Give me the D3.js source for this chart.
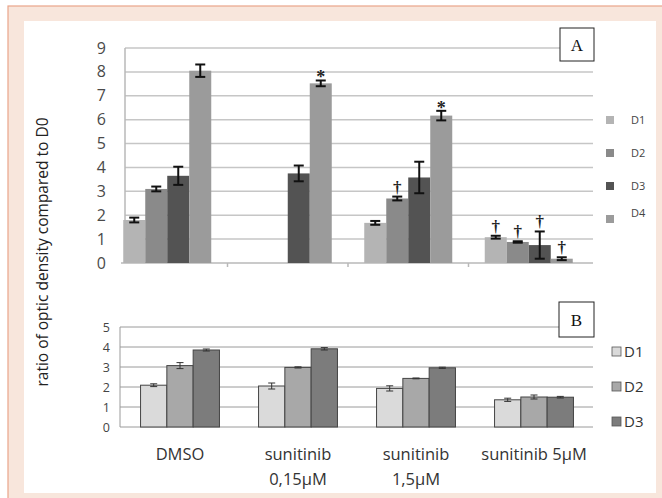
<!DOCTYPE html>
<html>
<head>
<meta charset="utf-8">
<script src="https://cdn.jsdelivr.net/npm/d3@7"></script>
<style>
	body { margin: 0; background: #fff; }
	svg { display: block; font-family: "Open Sans", sans-serif; }
</style>
</head>
<body>
<svg id="chart" width="662" height="498"></svg>
<script>
// categories, shared by both panels
var categories = ["DMSO", "sunitinib 0,15µM", "sunitinib 1,5µM", "sunitinib 5µM"];
var categoryLines = [["DMSO"], ["sunitinib", "0,15µM"], ["sunitinib", "1,5µM"], ["sunitinib 5µM"]];

// panel A (null = no bar)
var seriesA = ["D1", "D2", "D3", "D4"];
var meanA = [
	[1.8, 3.1, 3.65, 8.05],
	[null, null, 3.75, 7.52],
	[1.68, 2.7, 3.58, 6.17],
	[1.08, 0.88, 0.75, 0.18]
];
var errA = [
	[0.1, 0.1, 0.38, 0.26],
	[null, null, 0.33, 0.12],
	[0.08, 0.08, 0.66, 0.2],
	[0.06, 0.03, 0.57, 0.06]
];
var markA = [
	["", "", "", ""],
	["", "", "", "*"],
	["", "†", "", "*"],
	["†", "†", "†", "†"]
];
var ticksA = [0, 1, 2, 3, 4, 5, 6, 7, 8, 9];

// panel B
var seriesB = ["D1", "D2", "D3"];
var meanB = [
	[2.09, 3.07, 3.85],
	[2.05, 2.98, 3.91],
	[1.93, 2.43, 2.96],
	[1.36, 1.5, 1.49]
];
var errB = [
	[0.07, 0.15, 0.05],
	[0.15, 0.03, 0.06],
	[0.13, 0.02, 0.03],
	[0.08, 0.1, 0.04]
];
var ticksB = [0, 1, 2, 3, 4, 5];

var colorsA = ["#b4b4b4", "#8a8a8a", "#535353", "#9b9b9b"];
var colorsB = ["#dadada", "#a8a8a8", "#7c7c7c"];

var svg = d3.select("#chart");

// page frame
svg.append("rect").attr("x", 0).attr("y", 0).attr("width", 662).attr("height", 498).attr("fill", "#fff");
svg.append("rect").attr("x", 8).attr("y", 6).attr("width", 670).attr("height", 500)
	.attr("fill", "#f8e6dc").attr("stroke", "#eaa58a").attr("stroke-width", 1.2);
svg.append("rect").attr("x", 24).attr("y", 21).attr("width", 632).attr("height", 472).attr("fill", "#fff");

function flatten(means, errs, marks) {
	var out = [];
	means.forEach(function(row, ci) {
		row.forEach(function(v, si) {
			if (v == null) return;
			out.push({c: categories[ci], s: si, v: v, e: errs[ci][si], m: marks ? marks[ci][si] : ""});
		});
	});
	return out;
}

/* ---------- panel A ---------- */
var A = {left: 125, right: 593, top: 48, bottom: 263};
var yA = d3.scaleLinear().domain([0, 9]).range([A.bottom, A.top]);
var xA = d3.scaleBand().domain(categories).range([107, 589]);
var barA = 22;

var gA = svg.append("g");
gA.selectAll("line.grid").data(ticksA.slice(1)).enter().append("line")
	.attr("x1", A.left).attr("x2", A.right)
	.attr("y1", function(d) { return yA(d); }).attr("y2", function(d) { return yA(d); })
	.attr("stroke", "#c6c6c6").attr("stroke-width", 1.5);
gA.append("line").attr("x1", A.left).attr("x2", A.left).attr("y1", A.top).attr("y2", A.bottom)
	.attr("stroke", "#b8b8b8").attr("stroke-width", 1.5);
gA.append("line").attr("x1", A.left - 4).attr("x2", A.right).attr("y1", A.bottom).attr("y2", A.bottom)
	.attr("stroke", "#b8b8b8").attr("stroke-width", 1.5);
gA.selectAll("line.tick").data(categories.slice(1)).enter().append("line")
	.attr("x1", function(d) { return xA(d); }).attr("x2", function(d) { return xA(d); })
	.attr("y1", A.bottom).attr("y2", A.bottom + 4)
	.attr("stroke", "#b8b8b8").attr("stroke-width", 1.5);
gA.selectAll("text.ytick").data(ticksA).enter().append("text")
	.attr("x", 106).attr("y", function(d) { return yA(d) + 5.5; })
	.attr("text-anchor", "end").attr("font-size", 16).attr("fill", "#4a4a4a")
	.text(function(d) { return d; });

var dataA = flatten(meanA, errA, markA);
function barXA(d) { return xA(d.c) + xA.bandwidth() / 2 - 2 * barA + d.s * barA; }

gA.selectAll("rect.bar").data(dataA).enter().append("rect")
	.attr("x", barXA).attr("width", barA)
	.attr("y", function(d) { return yA(d.v); })
	.attr("height", function(d) { return A.bottom - yA(d.v); })
	.attr("fill", function(d) { return colorsA[d.s]; });

var ebA = gA.selectAll("g.err").data(dataA).enter().append("g")
	.attr("stroke", "#111").attr("stroke-width", 2);
ebA.append("line")
	.attr("x1", function(d) { return barXA(d) + barA / 2; }).attr("x2", function(d) { return barXA(d) + barA / 2; })
	.attr("y1", function(d) { return yA(d.v + d.e); }).attr("y2", function(d) { return yA(d.v - d.e); });
[1, -1].forEach(function(sgn) {
	ebA.append("line")
		.attr("x1", function(d) { return barXA(d) + barA / 2 - 5; }).attr("x2", function(d) { return barXA(d) + barA / 2 + 5; })
		.attr("y1", function(d) { return yA(d.v + sgn * d.e); }).attr("y2", function(d) { return yA(d.v + sgn * d.e); });
});

gA.selectAll("text.mark").data(dataA.filter(function(d) { return d.m; })).enter().append("text")
	.attr("x", function(d) { return barXA(d) + barA / 2; })
	.attr("y", function(d) { return yA(d.v + d.e) + (d.m == "*" ? 3 : -4); })
	.attr("text-anchor", "middle").attr("font-family", "'Liberation Serif', serif")
	.attr("font-weight", "bold")
	.attr("font-size", function(d) { return d.m == "*" ? 18 : 17; }).attr("fill", "#222")
	.text(function(d) { return d.m; });

// box label A
gA.append("rect").attr("x", 560).attr("y", 28).attr("width", 34).attr("height", 33)
	.attr("fill", "#fff").attr("stroke", "#222").attr("stroke-width", 1);
gA.append("text").attr("x", 577).attr("y", 51).attr("text-anchor", "middle")
	.attr("font-family", "'Liberation Serif', serif").attr("font-size", 17).attr("fill", "#111").text("A");

// legend A
var legA = gA.selectAll("g.leg").data(seriesA).enter().append("g")
	.attr("transform", function(d, i) { return "translate(606," + (116 + i * 33) + ")"; });
legA.append("rect").attr("width", 8).attr("height", 8)
	.attr("fill", function(d, i) { return colorsA[i]; });
legA.append("text").attr("x", 25).attr("y", function(d, i) { return i == 3 ? 2 : 8; })
	.attr("font-size", 11).attr("fill", "#444").text(function(d) { return d; });

/* ---------- panel B ---------- */
var B = {left: 120, right: 593, top: 327, bottom: 427};
var yB = d3.scaleLinear().domain([0, 5]).range([B.bottom, B.top]);
var xB = d3.scaleBand().domain(categories).range([121, 593]);
var barB = 26.3;

var gB = svg.append("g");
gB.selectAll("line.grid").data(ticksB).enter().append("line")
	.attr("x1", B.left).attr("x2", B.right)
	.attr("y1", function(d) { return yB(d); }).attr("y2", function(d) { return yB(d); })
	.attr("stroke", "#9a9a9a").attr("stroke-width", 1);
gB.append("line").attr("x1", B.left).attr("x2", B.left).attr("y1", B.top).attr("y2", B.bottom)
	.attr("stroke", "#9a9a9a").attr("stroke-width", 1);
gB.selectAll("text.ytick").data(ticksB).enter().append("text")
	.attr("x", 110).attr("y", function(d) { return yB(d) + 4.5; })
	.attr("text-anchor", "end").attr("font-size", 12.5).attr("fill", "#444")
	.text(function(d) { return d; });

var dataB = flatten(meanB, errB, null);
function barXB(d) { return xB(d.c) + xB.bandwidth() / 2 - 1.5 * barB + d.s * barB; }

gB.selectAll("rect.bar").data(dataB).enter().append("rect")
	.attr("x", barXB).attr("width", barB)
	.attr("y", function(d) { return yB(d.v); })
	.attr("height", function(d) { return B.bottom - yB(d.v); })
	.attr("fill", function(d) { return colorsB[d.s]; })
	.attr("stroke", "#444").attr("stroke-width", 1);

var ebB = gB.selectAll("g.err").data(dataB).enter().append("g")
	.attr("stroke", "#333").attr("stroke-width", 1);
ebB.append("line")
	.attr("x1", function(d) { return barXB(d) + barB / 2; }).attr("x2", function(d) { return barXB(d) + barB / 2; })
	.attr("y1", function(d) { return yB(d.v + d.e); }).attr("y2", function(d) { return yB(d.v - d.e); });
[1, -1].forEach(function(sgn) {
	ebB.append("line")
		.attr("x1", function(d) { return barXB(d) + barB / 2 - 3.5; }).attr("x2", function(d) { return barXB(d) + barB / 2 + 3.5; })
		.attr("y1", function(d) { return yB(d.v + sgn * d.e); }).attr("y2", function(d) { return yB(d.v + sgn * d.e); });
});

// box label B
gB.append("rect").attr("x", 559).attr("y", 302).attr("width", 35).attr("height", 35)
	.attr("fill", "#fff").attr("stroke", "#222").attr("stroke-width", 1);
gB.append("text").attr("x", 576.5).attr("y", 326).attr("text-anchor", "middle")
	.attr("font-family", "'Liberation Serif', serif").attr("font-size", 17).attr("fill", "#111").text("B");

// legend B
var legB = gB.selectAll("g.leg").data(seriesB).enter().append("g")
	.attr("transform", function(d, i) { return "translate(612," + (347 + i * 35) + ")"; });
legB.append("rect").attr("width", 9).attr("height", 9)
	.attr("fill", function(d, i) { return colorsB[i]; }).attr("stroke", "#555").attr("stroke-width", 0.8);
legB.append("text").attr("x", 12).attr("y", 10)
	.attr("font-size", 15).attr("fill", "#333").text(function(d) { return d; });

// category labels
var catG = svg.selectAll("text.cat").data(categories).enter().append("text")
	.attr("x", function(d) { return xB(d) + xB.bandwidth() / 2; })
	.attr("y", 460).attr("text-anchor", "middle")
	.attr("font-size", 16.5).attr("fill", "#333");
catG.each(function(d, i) {
	var t = d3.select(this);
	categoryLines[i].forEach(function(line, j) {
		t.append("tspan").attr("x", xB(d) + xB.bandwidth() / 2).attr("dy", j == 0 ? 0 : 25).text(line);
	});
});

// y title
svg.append("text")
	.attr("transform", "translate(48,252) rotate(-90)")
	.attr("text-anchor", "middle").attr("font-size", 15.5).attr("fill", "#222")
	.text("ratio of optic density compared to D0");
</script>
</body>
</html>
